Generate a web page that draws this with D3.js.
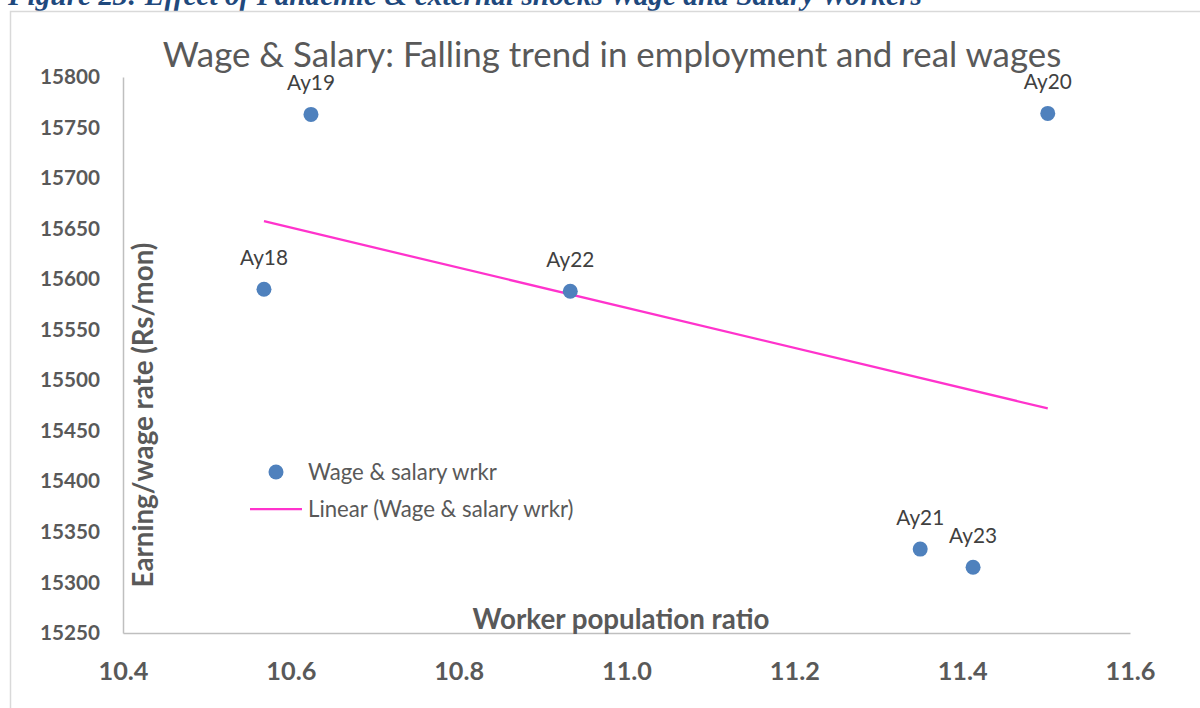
<!DOCTYPE html>
<html>
<head>
<meta charset="utf-8">
<script src="https://cdn.jsdelivr.net/npm/d3@7"></script>
<style>
    body { margin: 0; background: #fff; }
    svg { display: block; }
</style>
</head>
<body>
<div id="chart"></div>
<script>
// values
var labels = ["Ay18", "Ay19", "Ay20", "Ay21", "Ay22", "Ay23"];
var workerRatio = [10.568, 10.624, 11.502, 11.350, 10.933, 11.413];
var wageRate = [15590, 15763, 15764, 15333, 15588, 15315];
var xTicks = [10.4, 10.6, 10.8, 11.0, 11.2, 11.4, 11.6];
var yTicks = [15250, 15300, 15350, 15400, 15450, 15500, 15550, 15600, 15650, 15700, 15750, 15800];

var width = 1200, height = 708;
var font = "Lato, 'Open Sans', sans-serif";

var svg = d3.select("#chart").append("svg")
    .attr("width", width)
    .attr("height", height);

// shrink / grow font so text takes the width seen in the picture
function fit(sel, target) {
    var fs = parseFloat(sel.style("font-size"));
    var w = sel.node().getComputedTextLength();
    sel.style("font-size", (fs * target / w) + "px");
    return sel;
}

// caption cut off at top of the page
var cap = svg.append("text")
    .attr("x", 8).attr("y", 5)
    .style("font-family", "'Liberation Serif', serif")
    .style("font-style", "italic")
    .style("font-weight", "bold")
    .style("font-size", "22px")
    .attr("fill", "#1F497D")
    .text("Figure 23: Effect of Pandemic & external shocks Wage and Salary Workers");
fit(cap, 914);

// chart area border
svg.append("path")
    .attr("d", "M10.5," + height + "V11.5H" + width)
    .attr("fill", "none")
    .attr("stroke", "#d9d9d9")
    .attr("stroke-width", 1.5);

var x = d3.scaleLinear().domain([10.4, 11.6]).range([123, 1130]);
var y = d3.scaleLinear().domain([15250, 15800]).range([633, 77]);

// title
var title = svg.append("text")
    .attr("x", 612).attr("y", 67)
    .attr("text-anchor", "middle")
    .style("font-family", font)
    .style("font-size", "30px")
    .attr("fill", "#595959")
    .text("Wage & Salary: Falling trend in employment and real wages");
fit(title, 899);

// axes
var xAxis = svg.append("g")
    .attr("transform", "translate(0," + y(15250) + ")")
    .call(d3.axisBottom(x).tickValues(xTicks).tickSize(0).tickPadding(47)
        .tickFormat(d3.format(".1f")));
xAxis.select(".domain").attr("stroke", "#bfbfbf").attr("stroke-width", 1.5);
xAxis.selectAll("text")
    .attr("dy", "0")
    .style("font-family", font)
    .style("font-weight", "bold")
    .style("font-size", "27px")
    .attr("fill", "#595959");

var yAxis = svg.append("g")
    .attr("transform", "translate(" + x(10.4) + ",0)")
    .call(d3.axisLeft(y).tickValues(yTicks).tickSize(0).tickPadding(23)
        .tickFormat(d3.format("d")));
yAxis.select(".domain").attr("stroke", "#bfbfbf").attr("stroke-width", 1.5);
yAxis.selectAll("text")
    .style("font-family", font)
    .style("font-weight", "bold")
    .style("font-size", "20px")
    .attr("fill", "#595959");

// fit tick fonts by one sample label
var fsX = (function () {
    var t = xAxis.select(".tick text");
    fit(t, 50);
    return t.style("font-size");
})();
xAxis.selectAll("text").style("font-size", fsX);
var fsY = (function () {
    var t = yAxis.select(".tick text");
    fit(t, 60);
    return t.style("font-size");
})();
yAxis.selectAll("text").style("font-size", fsY);

// axis titles
var xTitle = svg.append("text")
    .attr("x", 621).attr("y", 629)
    .attr("text-anchor", "middle")
    .style("font-family", font)
    .style("font-weight", "bold")
    .style("font-size", "24px")
    .attr("fill", "#595959")
    .text("Worker population ratio");
fit(xTitle, 297);

var yTitle = svg.append("text")
    .attr("transform", "translate(153,415) rotate(-90)")
    .attr("text-anchor", "middle")
    .style("font-family", font)
    .style("font-weight", "bold")
    .style("font-size", "24px")
    .attr("fill", "#595959")
    .text("Earning/wage rate (Rs/mon)");
fit(yTitle, 345);

// linear trendline (least squares over the points)
var mx = d3.mean(workerRatio), my = d3.mean(wageRate);
var sxy = d3.sum(workerRatio, function (d, i) { return (d - mx) * (wageRate[i] - my); });
var sxx = d3.sum(workerRatio, function (d) { return (d - mx) * (d - mx); });
var slope = sxy / sxx, icpt = my - slope * mx;
var ext = d3.extent(workerRatio);

svg.append("line")
    .attr("x1", x(ext[0])).attr("y1", y(icpt + slope * ext[0]))
    .attr("x2", x(ext[1])).attr("y2", y(icpt + slope * ext[1]))
    .attr("stroke", "#FF33CC")
    .attr("stroke-width", 2.25);

// points
var pts = labels.map(function (l, i) {
    return { label: l, x: workerRatio[i], y: wageRate[i] };
});

svg.selectAll("circle.pt")
    .data(pts)
    .enter().append("circle")
    .attr("class", "pt")
    .attr("cx", function (d) { return x(d.x); })
    .attr("cy", function (d) { return y(d.y); })
    .attr("r", 7.5)
    .attr("fill", "#4F81BD");

var lbl = svg.selectAll("text.lbl")
    .data(pts)
    .enter().append("text")
    .attr("class", "lbl")
    .attr("x", function (d) { return x(d.x); })
    .attr("y", function (d) { return y(d.y) - 24; })
    .attr("text-anchor", "middle")
    .style("font-family", font)
    .style("font-size", "20px")
    .attr("fill", "#404040")
    .text(function (d) { return d.label; });
fit(d3.select(lbl.nodes()[3]), 48);
lbl.style("font-size", d3.select(lbl.nodes()[3]).style("font-size"));

// legend
var legend = svg.append("g");
legend.append("circle")
    .attr("cx", 276).attr("cy", 472)
    .attr("r", 7.5)
    .attr("fill", "#4F81BD");
var lt1 = legend.append("text")
    .attr("x", 308).attr("y", 472)
    .attr("dy", "0.35em")
    .style("font-family", font)
    .style("font-size", "20px")
    .attr("fill", "#595959")
    .text("Wage & salary wrkr");
fit(lt1, 189);
legend.append("line")
    .attr("x1", 250).attr("x2", 302)
    .attr("y1", 509).attr("y2", 509)
    .attr("stroke", "#FF33CC")
    .attr("stroke-width", 2.25);
legend.append("text")
    .attr("x", 308).attr("y", 509)
    .attr("dy", "0.35em")
    .style("font-family", font)
    .style("font-size", lt1.style("font-size"))
    .attr("fill", "#595959")
    .text("Linear (Wage & salary wrkr)");
</script>
</body>
</html>
